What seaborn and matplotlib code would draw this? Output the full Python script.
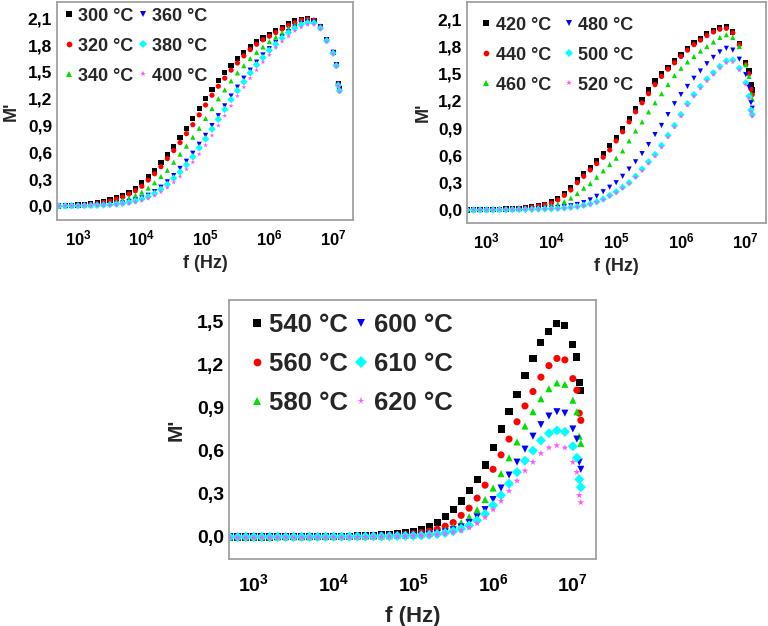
import numpy as np
import pandas as pd
import seaborn as sns
import matplotlib
matplotlib.use("Agg")
import matplotlib.pyplot as plt
from matplotlib.ticker import FuncFormatter, MultipleLocator, LogLocator, NullFormatter

# measured frequency points (Hz)
freq = [501, 631, 794, 1000, 1259, 1585, 1995, 2512, 3162, 3981, 5012, 6310, 7943,
        10000, 12589, 15849, 19953, 25119, 31623, 39811, 50119, 63096, 79433,
        100000, 125893, 158489, 199526, 251189, 316228, 398107, 501187, 630957, 794328,
        1000000, 1258925, 1584893, 1995262, 2511886, 3162278, 3981072, 5011872, 6309573,
        7943282, 10000000, 11220185, 12022644, 12589254]

# M' values, panel 1 (300-400 C)
m300 = [0.0, 0.004, 0.007, 0.011, 0.016, 0.023, 0.033, 0.047, 0.066, 0.09, 0.12, 0.155, 0.20, 0.26,
        0.33, 0.40, 0.49, 0.58, 0.67, 0.77, 0.87, 0.98, 1.09, 1.20,
        1.30, 1.40, 1.49, 1.57, 1.65, 1.72, 1.78, 1.84, 1.88, 1.92,
        1.96, 2.00, 2.04, 2.07, 2.09, 2.10, 2.08, 2.01, 1.86, 1.72, 1.58, 1.37, 1.31]
m320 = [0.0, 0.003, 0.006, 0.009, 0.013, 0.019, 0.027, 0.039, 0.055, 0.076, 0.10, 0.134, 0.17, 0.22,
        0.29, 0.36, 0.44, 0.53, 0.62, 0.71, 0.81, 0.91, 1.02, 1.13,
        1.24, 1.34, 1.43, 1.52, 1.60, 1.68, 1.75, 1.81, 1.86, 1.90,
        1.94, 1.98, 2.02, 2.05, 2.08, 2.09, 2.08, 2.01, 1.86, 1.72, 1.58, 1.37, 1.31]
m340 = [0.0, 0.002, 0.004, 0.006, 0.008, 0.011, 0.016, 0.023, 0.033, 0.047, 0.066, 0.09, 0.12, 0.155,
        0.20, 0.26, 0.33, 0.40, 0.49, 0.58, 0.67, 0.77, 0.87, 0.98,
        1.09, 1.20, 1.30, 1.40, 1.49, 1.57, 1.65, 1.72, 1.78, 1.84,
        1.89, 1.94, 1.99, 2.03, 2.06, 2.08, 2.07, 2.00, 1.86, 1.72, 1.58, 1.36, 1.30]
m360 = [0.0, 0.001, 0.002, 0.003, 0.004, 0.006, 0.008, 0.011, 0.016, 0.023, 0.033, 0.047, 0.066, 0.09,
        0.12, 0.16, 0.21, 0.27, 0.34, 0.42, 0.50, 0.59, 0.69, 0.79,
        0.90, 1.01, 1.12, 1.23, 1.33, 1.43, 1.52, 1.61, 1.69, 1.76,
        1.83, 1.89, 1.95, 2.00, 2.04, 2.06, 2.06, 2.00, 1.86, 1.72, 1.58, 1.36, 1.30]
m380 = [0.0, 0.001, 0.002, 0.002, 0.003, 0.005, 0.007, 0.010, 0.014, 0.020, 0.028, 0.040, 0.057, 0.078,
        0.105, 0.14, 0.185, 0.24, 0.31, 0.38, 0.46, 0.55, 0.65, 0.75,
        0.86, 0.97, 1.08, 1.19, 1.29, 1.39, 1.49, 1.58, 1.66, 1.74,
        1.81, 1.88, 1.94, 1.99, 2.03, 2.05, 2.05, 1.99, 1.85, 1.71, 1.57, 1.35, 1.29]
m400 = [0.0, 0.0, 0.001, 0.002, 0.003, 0.004, 0.006, 0.008, 0.011, 0.016, 0.022, 0.031, 0.044, 0.062,
        0.085, 0.115, 0.155, 0.205, 0.265, 0.33, 0.41, 0.49, 0.58, 0.68,
        0.79, 0.90, 1.01, 1.12, 1.23, 1.33, 1.43, 1.52, 1.61, 1.69,
        1.77, 1.84, 1.90, 1.96, 2.00, 2.03, 2.03, 1.98, 1.84, 1.70, 1.56, 1.34, 1.28]

# panel 2 (420-520 C)
m420 = [0.0, 0.002, 0.003, 0.004, 0.006, 0.008, 0.011, 0.015, 0.020, 0.027, 0.036, 0.048, 0.064, 0.09,
        0.13, 0.18, 0.25, 0.33, 0.40, 0.47, 0.54, 0.62, 0.71, 0.80,
        0.90, 1.01, 1.12, 1.22, 1.32, 1.42, 1.50, 1.57, 1.64, 1.71,
        1.78, 1.84, 1.89, 1.94, 1.98, 2.01, 2.02, 1.96, 1.83, 1.62, 1.53, 1.38, 1.32]
m440 = [0.0, 0.002, 0.003, 0.004, 0.005, 0.007, 0.010, 0.013, 0.018, 0.024, 0.032, 0.043, 0.057, 0.075,
        0.11, 0.16, 0.22, 0.30, 0.37, 0.44, 0.51, 0.58, 0.66, 0.76,
        0.86, 0.97, 1.08, 1.18, 1.28, 1.38, 1.47, 1.55, 1.62, 1.69,
        1.76, 1.82, 1.87, 1.92, 1.96, 1.99, 2.00, 1.95, 1.82, 1.60, 1.50, 1.33, 1.27]
m460 = [0.0, 0.001, 0.002, 0.003, 0.004, 0.005, 0.007, 0.009, 0.012, 0.016, 0.021, 0.028, 0.037, 0.05,
        0.067, 0.09, 0.13, 0.18, 0.24, 0.29, 0.36, 0.43, 0.50, 0.57,
        0.65, 0.76, 0.87, 0.97, 1.08, 1.18, 1.28, 1.38, 1.48, 1.56,
        1.63, 1.69, 1.75, 1.80, 1.85, 1.90, 1.93, 1.90, 1.80, 1.60, 1.47, 1.28, 1.22]
m480 = [0.0, 0.0, 0.001, 0.001, 0.002, 0.002, 0.003, 0.004, 0.005, 0.007, 0.009, 0.012, 0.016, 0.02,
        0.026, 0.034, 0.045, 0.06, 0.08, 0.11, 0.15, 0.20, 0.25, 0.30,
        0.37, 0.45, 0.53, 0.62, 0.72, 0.83, 0.93, 1.05, 1.17, 1.27,
        1.36, 1.45, 1.53, 1.61, 1.68, 1.74, 1.78, 1.76, 1.66, 1.49, 1.35, 1.18, 1.12]
m500 = [0.0, 0.0, 0.0, 0.001, 0.001, 0.002, 0.002, 0.003, 0.004, 0.005, 0.006, 0.008, 0.010, 0.012,
        0.016, 0.021, 0.028, 0.037, 0.05, 0.067, 0.09, 0.12, 0.16, 0.20,
        0.25, 0.30, 0.37, 0.45, 0.53, 0.61, 0.71, 0.82, 0.93, 1.05,
        1.17, 1.27, 1.36, 1.44, 1.51, 1.58, 1.64, 1.65, 1.56, 1.40, 1.25, 1.10, 1.05]
m520 = [0.0, 0.0, 0.0, 0.0, 0.001, 0.001, 0.002, 0.002, 0.003, 0.004, 0.005, 0.007, 0.009, 0.011,
        0.014, 0.019, 0.025, 0.034, 0.046, 0.062, 0.084, 0.11, 0.15, 0.19,
        0.24, 0.29, 0.36, 0.43, 0.51, 0.59, 0.69, 0.80, 0.91, 1.03,
        1.15, 1.25, 1.34, 1.42, 1.49, 1.56, 1.62, 1.63, 1.54, 1.38, 1.23, 1.08, 1.03]

# panel 3 (540-620 C)
m540 = [0.0, 0.0, 0.0, 0.0, 0.0, 0.0, 0.001, 0.001, 0.001, 0.002, 0.002, 0.003, 0.003, 0.004,
        0.005, 0.006, 0.008, 0.010, 0.012, 0.015, 0.019, 0.024, 0.031, 0.041,
        0.055, 0.074, 0.10, 0.14, 0.19, 0.25, 0.32, 0.40, 0.50, 0.62,
        0.75, 0.87, 0.99, 1.12, 1.24, 1.35, 1.43, 1.48, 1.47, 1.34, 1.25, 1.07, 1.02]
m560 = [0.0, 0.0, 0.0, 0.0, 0.0, 0.0, 0.001, 0.001, 0.001, 0.001, 0.002, 0.002, 0.003, 0.003,
        0.004, 0.005, 0.006, 0.007, 0.008, 0.010, 0.012, 0.015, 0.018, 0.022,
        0.03, 0.04, 0.055, 0.075, 0.10, 0.15, 0.20, 0.27, 0.36, 0.47,
        0.57, 0.68, 0.80, 0.91, 1.01, 1.11, 1.19, 1.24, 1.23, 1.10, 1.02, 0.86, 0.81]
m580 = [0.0, 0.0, 0.0, 0.0, 0.0, 0.0, 0.0, 0.001, 0.001, 0.001, 0.001, 0.002, 0.002, 0.002,
        0.003, 0.004, 0.004, 0.005, 0.006, 0.007, 0.008, 0.010, 0.012, 0.015,
        0.02, 0.027, 0.037, 0.05, 0.07, 0.10, 0.14, 0.19, 0.26, 0.34,
        0.44, 0.55, 0.66, 0.77, 0.87, 0.96, 1.03, 1.07, 1.06, 0.95, 0.87, 0.70, 0.65]
m600 = [0.0, 0.0, 0.0, 0.0, 0.0, 0.0, 0.0, 0.0, 0.001, 0.001, 0.001, 0.001, 0.002, 0.002,
        0.002, 0.003, 0.003, 0.004, 0.004, 0.005, 0.006, 0.007, 0.008, 0.010,
        0.013, 0.018, 0.025, 0.035, 0.05, 0.07, 0.10, 0.14, 0.19, 0.26,
        0.34, 0.43, 0.52, 0.61, 0.70, 0.78, 0.84, 0.87, 0.86, 0.75, 0.68, 0.52, 0.47]
m610 = [0.0, 0.0, 0.0, 0.0, 0.0, 0.0, 0.0, 0.0, 0.0, 0.001, 0.001, 0.001, 0.001, 0.002,
        0.002, 0.002, 0.003, 0.003, 0.004, 0.004, 0.005, 0.006, 0.007, 0.008,
        0.01, 0.014, 0.02, 0.028, 0.04, 0.057, 0.08, 0.115, 0.16, 0.22,
        0.29, 0.37, 0.45, 0.53, 0.60, 0.67, 0.72, 0.74, 0.73, 0.63, 0.55, 0.40, 0.345]
m620 = [-0.005, -0.005, -0.005, -0.005, -0.005, -0.005, -0.005, -0.005, -0.005, -0.005, -0.004, -0.004, -0.004, -0.003,
        -0.003, -0.002, -0.002, -0.001, 0.0, 0.001, 0.002, 0.003, 0.004, 0.006,
        0.008, 0.011, 0.016, 0.022, 0.032, 0.046, 0.066, 0.095, 0.135, 0.19,
        0.25, 0.32, 0.39, 0.46, 0.52, 0.58, 0.62, 0.635, 0.62, 0.52, 0.45, 0.29, 0.24]

labels1 = ["300 °C", "320 °C", "340 °C", "360 °C", "380 °C", "400 °C"]
labels2 = ["420 °C", "440 °C", "460 °C", "480 °C", "500 °C", "520 °C"]
labels3 = ["540 °C", "560 °C", "580 °C", "600 °C", "610 °C", "620 °C"]

colors = ["#000000", "#FF0000", "#00E000", "#0000FF", "#00FFFF", "#FF55FF"]
markers = ["s", "o", "^", "v", "D", "*"]

sns.set_style("white")
plt.rcParams["font.family"] = ["Liberation Sans", "DejaVu Sans"]
plt.rcParams["font.weight"] = "bold"
plt.rcParams["mathtext.fontset"] = "custom"
plt.rcParams["mathtext.bf"] = "Liberation Sans:bold"
plt.rcParams["mathtext.rm"] = "Liberation Sans:bold"


def make_df(series, labels):
    frames = []
    for vals, lab in zip(series, labels):
        frames.append(pd.DataFrame({"f": freq, "M": vals, "T": lab}))
    return pd.concat(frames, ignore_index=True)


def draw(ax, df, labels, ms, xlim, ylim, yticks, fs, leg, pads):
    fs_xt, fs_yt, fs_xl, fs_yl = fs
    fs_leg, leg_space, leg_anchor, col_space = leg
    xt_pad, xl_pad, yl_pad = pads
    sns.scatterplot(data=df, x="f", y="M", hue="T", style="T", hue_order=labels,
                    style_order=labels, palette=colors, markers=markers, s=ms,
                    linewidth=0, ax=ax, legend=True)
    ax.set_xscale("log")
    ax.set_xlim(xlim)
    ax.set_ylim(ylim)
    ax.set_xticks([1e3, 1e4, 1e5, 1e6, 1e7])
    ax.set_xticklabels([r"$\mathbf{10^{%d}}$" % k for k in range(3, 8)])
    ax.xaxis.set_minor_locator(LogLocator(base=10, subs=np.arange(2, 10)))
    ax.xaxis.set_minor_formatter(NullFormatter())
    ax.set_yticks(yticks)
    ax.yaxis.set_minor_locator(MultipleLocator(0.15))
    ax.yaxis.set_major_formatter(FuncFormatter(lambda v, p: ("%.1f" % v).replace(".", ",")))
    ax.tick_params(which="both", direction="in", colors="#808080",
                   labelcolor="black", width=1)
    ax.tick_params(axis="x", labelsize=fs_xt, pad=xt_pad)
    ax.tick_params(axis="y", labelsize=fs_yt)
    ax.tick_params(which="major", length=4)
    ax.tick_params(which="minor", length=2.5)
    for lab in ax.get_xticklabels() + ax.get_yticklabels():
        lab.set_fontweight("bold")
    for sp in ax.spines.values():
        sp.set_color("#A0A0A0")
        sp.set_linewidth(1.3)
    ax.set_xlabel("f (Hz)", fontsize=fs_xl, fontweight="bold", labelpad=xl_pad)
    ax.set_ylabel("M'", fontsize=fs_yl, fontweight="bold", labelpad=yl_pad)
    handles, labs = ax.get_legend_handles_labels()
    ax.legend(handles, labs, ncol=2, loc="upper left", bbox_to_anchor=leg_anchor,
              frameon=False, prop={"size": fs_leg, "weight": "bold"}, handlelength=0.6,
              handletextpad=0.2, columnspacing=col_space, labelspacing=leg_space,
              borderaxespad=0.0, borderpad=0.2, markerscale=1.1)


fig = plt.figure(figsize=(7.68, 6.26), dpi=100)
ax1 = fig.add_axes([57 / 768, 1 - 220 / 626, 296 / 768, 218 / 626])
ax2 = fig.add_axes([467 / 768, 1 - 223 / 626, 299 / 768, 221 / 626])
ax3 = fig.add_axes([229 / 768, 1 - 559 / 626, 367 / 768, 259 / 626])

yt12 = [0.0, 0.3, 0.6, 0.9, 1.2, 1.5, 1.8, 2.1]
draw(ax1, make_df([m300, m320, m340, m360, m380, m400], labels1), labels1, 14,
     (468, 2.05e7), (-0.157, 2.283), yt12, (12, 12.5, 13, 13),
     (13, 0.72, (0.01, 0.99), 0.25), (6, 5, 6))
draw(ax2, make_df([m420, m440, m460, m480, m500, m520], labels2), labels2, 14,
     (500, 2.05e7), (-0.144, 2.29), yt12, (12, 12.5, 13, 13),
     (13, 0.72, (0.035, 0.95), 0.7), (6, 5, 4))
draw(ax3, make_df([m540, m560, m580, m600, m610, m620], labels3), labels3, 26,
     (490, 1.95e7), (-0.153, 1.646), [0.0, 0.3, 0.6, 0.9, 1.2, 1.5], (14, 14, 16, 15),
     (18.5, 0.58, (0.04, 0.97), 0.2), (10, 8, 8))

fig.savefig("out.png", dpi=100)
